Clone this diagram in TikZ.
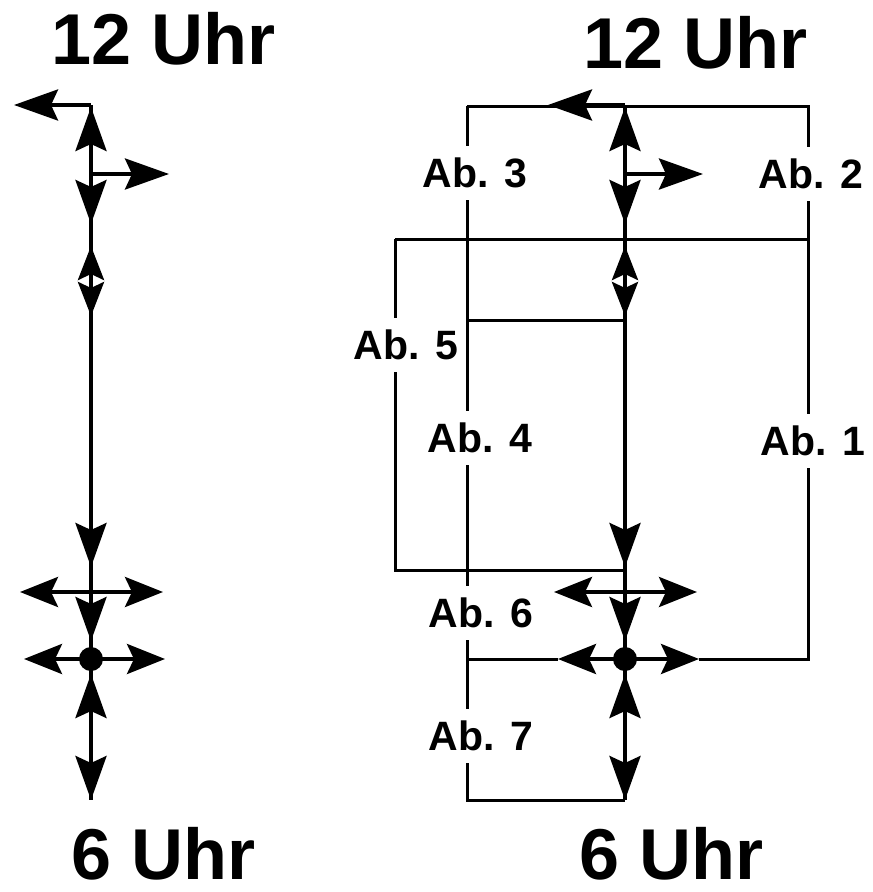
\documentclass[tikz,border=0pt]{standalone}
\usepackage{fontspec}
\setmainfont{Liberation Sans}
\usetikzlibrary{arrows.meta}
\newcommand{\bigfont}{\fontsize{72}{72}\selectfont\bfseries}
\newcommand{\labfont}{\fontsize{41}{41}\selectfont\bfseries}
\tikzset{
  axis/.style={line width=4.5pt},
  arr/.style={-{Stealth[length=44pt, width=31pt, inset=7pt]}, line width=4pt},
  arr2/.style={{Stealth[length=38pt, width=30pt, inset=7pt]}-{Stealth[length=38pt, width=30pt, inset=7pt]},
               line width=4pt},
  dia/.style={-{Stealth[length=34pt, width=26pt, inset=6pt]}, line width=4pt},
  conn/.style={line width=3pt},
  lbl/.style={font=\labfont, inner xsep=0pt, inner ysep=12pt},
  ttl/.style={font=\bigfont, inner sep=0pt, anchor=base},
}

\begin{document}
\begin{tikzpicture}[x=1pt, y=-1pt]
  \useasboundingbox (0,0) rectangle (873,892);

  % ---- titles ----
  \node[ttl] (t12L) at (164,64)  {12 Uhr};
  \node[ttl] (t12R) at (696,68)  {12 Uhr};
  \node[ttl] (t6L)  at (164,879) {6 Uhr};
  \node[ttl] (t6R)  at (672,879) {6 Uhr};

  % ---- the two clock axes (left plain, right with sections) ----
  \foreach \p/\x in {L/91, R/625}{
    \coordinate (\p-top)  at (\x,105);
    \coordinate (\p-side) at (\x,174);
    \coordinate (\p-dia)  at (\x,281);
    \coordinate (\p-row)  at (\x,592);
    \coordinate (\p-dot)  at (\x,659);
    \coordinate (\p-bot)  at (\x,800);
    \coordinate (\p-dotW) at (\x-67,659);
    \coordinate (\p-dotE) at (\x+74,659);
    \draw[axis] (\p-top) -- (\p-bot);
    \draw[arr] (\p-top) -- (\x-77,105);
    \draw[arr] (\p-side) -- (\x,107);
    \draw[arr] (\p-side) -- (\x+78,174);
    \draw[arr] (\p-side) -- (\x,224);
    \draw[dia] (\p-dia) -- (\x,246);
    \draw[dia] (\p-dia) -- (\x,316);
    \draw[arr] (\x,522) -- (\x,567);
    \draw[arr2] (\x-71,592) -- (\x+72,592);
    \draw[arr] (\x,600) -- (\x,641);
    \fill (\p-dot) circle (12pt);
    \draw[arr2] (\p-dotW) -- (\p-dotE);
    \draw[arr] (\x,718) -- (\x,674);
    \draw[arr] (\x,742) -- (\p-bot);
  }

  % ---- section labels ----
  \node[lbl] (ab3) at (475,173) {Ab. 3};
  \node[lbl] (ab2) at (811,174) {Ab. 2};
  \node[lbl] (ab5) at (406,345) {Ab. 5};
  \node[lbl] (ab4) at (480,438) {Ab. 4};
  \node[lbl] (ab1) at (813,441) {Ab. 1};
  \node[lbl] (ab6) at (481,613) {Ab. 6};
  \node[lbl] (ab7) at (481,736) {Ab. 7};

  % ---- corners of the section lines ----
  \coordinate (tl)  at (467,106);
  \coordinate (tr)  at (808,106);
  \coordinate (ml)  at (395,239);
  \coordinate (bl)  at (395,570);
  \coordinate (mid) at (467,320);
  \coordinate (bb)  at (467,800);

  \draw[conn] (tl) -- (tr) -- (tr |- ab2.north);
  \draw[conn] (tr |- ab2.south) -- (tr |- ab1.north);
  \draw[conn] (tr |- ab1.south) -- (tr |- R-dot) -- (R-dotE);
  \draw[conn] (ml) -- (ml -| tr);
  \draw[conn] (ml) -- (ml |- ab5.north);
  \draw[conn] (ml |- ab5.south) -- (bl) -- (bl -| R-top);
  \draw[conn] (mid) -- (mid -| R-top);
  \draw[conn] (tl) -- (tl |- ab3.north);
  \draw[conn] (tl |- ab3.south) -- (tl |- ab4.north);
  \draw[conn] (tl |- ab4.south) -- (tl |- ab6.north);
  \draw[conn] (tl |- ab6.south) -- (tl |- ab7.north);
  \draw[conn] (tl |- ab7.south) -- (bb) -- (R-bot);
  \draw[conn] (tl |- R-dot) -- (R-dotW);
\end{tikzpicture}
\end{document}
